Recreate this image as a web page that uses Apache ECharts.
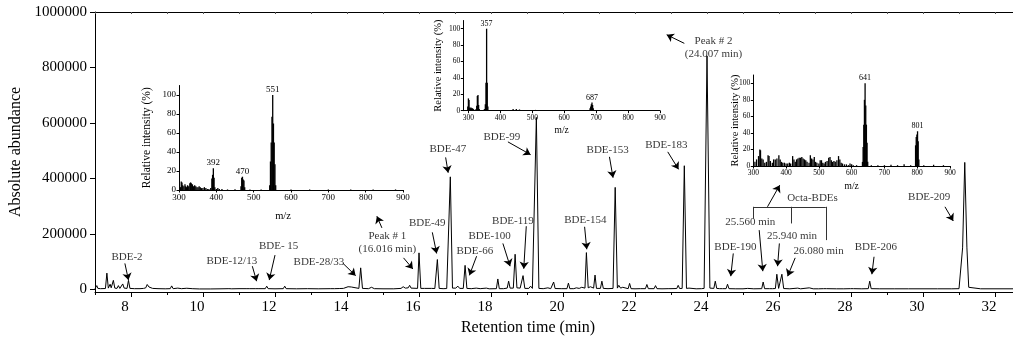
<!DOCTYPE html>
<html><head><meta charset="utf-8">
<script src="https://cdn.jsdelivr.net/npm/echarts@6/dist/echarts.min.js"></script>
<style>html,body{margin:0;padding:0;background:#fff}#c{width:1013px;height:341px}</style>
</head><body><div id="c"></div>
<script>
// ---------------- DATA ----------------
const rtTicks = [8, 10, 12, 14, 16, 18, 20, 22, 24, 26, 28, 30, 32];
const rtMinorTicks = [7, 9, 11, 13, 15, 17, 19, 21, 23, 25, 27, 29, 31];
const rtFrameTicks = [7,8,9,10,11,12,13,14,15,16,17,18,19,20,21,22,23,24,25,26,27,28,29,30,31,32];
const abundanceTicks = [0, 200000, 400000, 600000, 800000, 1000000];
const abundanceMinorTicks = [100000, 300000, 500000, 700000, 900000];
const mzTicks = [300, 400, 500, 600, 700, 800, 900];
const intensityTicks = [0, 20, 40, 60, 80, 100];

// chromatogram: [retention time (min), absolute abundance]
const chromatogram = [
 [7.00,3000],[7.03,4000],[7.05,14000],[7.08,4000],[7.15,3000],
 [7.29,3500],[7.33,59000],[7.37,5000],[7.40,8000],[7.42,19000],[7.45,6000],
 [7.48,8000],[7.51,33000],[7.55,5000],[7.61,4000],[7.65,14000],[7.69,4000],
 [7.73,5000],[7.77,20000],[7.81,5000],[7.89,4000],[7.93,33000],[7.97,4000],
 [8.10,3000],[8.25,3000],[8.35,4000],[8.41,6000],[8.45,18000],[8.50,9000],[8.55,14000],[8.60,4000],
 [8.75,3000],[8.95,2500],[9.09,3000],[9.13,13000],[9.17,3000],
 [9.30,5000],[9.40,3000],[9.55,4500],[9.70,3000],[9.90,2000],[10.20,2000],[10.50,2500],
 [10.72,3000],[10.75,5000],[10.80,2500],[11.00,3000],[11.22,3000],[11.25,6000],[11.30,3000],
 [11.45,3000],[11.49,8000],[11.53,3000],[11.73,3000],[11.77,12000],[11.81,3000],
 [12.00,2500],[12.23,3000],[12.27,12000],[12.31,3000],
 [12.60,2500],[12.90,3000],[13.20,2500],[13.55,3000],[13.60,6000],[13.65,3000],
 [13.80,3500],[13.85,8000],[13.90,4000],[14.03,10000],[14.07,4000],[14.12,9000],[14.17,3500],
 [14.33,4000],[14.38,78000],[14.43,4000],[14.60,3000],[14.68,8000],[14.76,3000],
 [15.00,2500],[15.30,2500],[15.50,4000],[15.56,10000],[15.62,5000],[15.70,6000],[15.74,15000],[15.78,5000],
 [15.96,4000],[16.00,132000],[16.05,4000],
 [16.15,4000],[16.20,10000],[16.25,4000],[16.30,10000],[16.35,4000],[16.40,6000],[16.44,3500],
 [16.47,4000],[16.51,108000],[16.56,4000],[16.67,3000],[16.71,5000],[16.77,3500],
 [16.81,4000],[16.87,406000],[16.93,5000],[16.97,10000],[17.02,5000],[17.08,12000],[17.13,4000],
 [17.23,4000],[17.28,87000],[17.33,4000],[17.45,3000],[17.59,5000],[17.70,3000],[17.87,5000],[17.95,2500],
 [18.15,3000],[18.19,38000],[18.23,3000],[18.35,3000],[18.45,5000],[18.49,30000],[18.53,5000],
 [18.62,5000],[18.67,127000],[18.72,6000],[18.77,12000],[18.81,5000],
 [18.85,5000],[18.89,50000],[18.94,4000],[19.05,4000],[19.10,12000],[19.15,4000],
 [19.19,4000],[19.26,620000],[19.33,4000],
 [19.45,3000],[19.58,6000],[19.66,3000],[19.70,4000],[19.74,27000],[19.78,3500],
 [19.95,3000],[20.11,3000],[20.15,23000],[20.19,3000],
 [20.30,3000],[20.37,6000],[20.45,4000],[20.52,8000],[20.57,4000],
 [20.61,5000],[20.65,133000],[20.70,6000],[20.76,10000],[20.81,5000],
 [20.85,5000],[20.89,52000],[20.93,4000],[21.04,4000],[21.08,30000],[21.12,4000],
 [21.25,3000],[21.39,4000],[21.45,368000],[21.51,5000],[21.55,15000],[21.60,5000],[21.66,8000],[21.71,3500],
 [21.81,3000],[21.85,22000],[21.89,3000],[22.00,2500],[22.15,3000],[22.29,3000],[22.33,18000],[22.37,3000],
 [22.53,3000],[22.57,14000],[22.61,3000],[22.75,2500],[22.92,3000],[22.96,8000],[23.00,3000],
 [23.16,3500],[23.20,15000],[23.24,3500],
 [23.31,4000],[23.37,446000],[23.43,4000],[23.50,5000],[23.55,3000],
 [23.70,2500],[23.85,3000],[23.92,4000],[24.00,842000],[24.08,5000],
 [24.19,4000],[24.23,30000],[24.27,4000],[24.35,3000],[24.39,6000],[24.43,3000],
 [24.53,3000],[24.57,19000],[24.61,3000],[24.80,2500],[25.00,2500],[25.13,4000],[25.30,2500],
 [25.52,3000],[25.56,27000],[25.60,3000],[25.74,3000],[25.78,6000],[25.82,3000],
 [25.90,3500],[25.94,55000],[25.99,4000],[26.03,4000],[26.08,55000],[26.13,3500],
 [26.30,2500],[26.52,5000],[26.60,2500],[26.84,6000],[26.95,2500],[27.10,2500],
 [27.24,3000],[27.28,10000],[27.32,3000],[27.60,2500],[27.80,2500],[27.99,3000],[28.03,10000],[28.07,3000],
 [28.30,2500],[28.48,3000],[28.52,30000],[28.56,3000],
 [28.80,2500],[29.20,2500],[29.60,2500],[30.00,2500],[30.40,2500],[30.80,2500],[31.00,3000],
 [31.05,8000],[31.10,150000],[31.16,458000],[31.22,150000],[31.27,8000],[31.32,3000],
 [31.60,2500],[32.00,2500],[32.50,2500]
];

// mass spectra: [m/z, relative intensity %]
const ms1 = [
 [304,3],[306,9],[308,8],[310,5],[313,4],[316,6],[318,4],[320,3],[323,5],[326,4],[329,7],[331,8],[333,7],
 [336,6],[339,4],[342,5],[345,4],[348,3],[351,3],[354,4],[357,3],[360,2],[364,2],[368,3],[372,2],[376,1],
 [380,1],[385,2],[388,12],[390,16],[392,23],[394,13],[396,3],[400,1],[404,2],[408,1],[415,1],[430,0.6],
 [450,0.7],[466,4],[468,13],[470,14],[472,11],[474,10],[476,3],[490,0.6],[520,0.6],
 [543,5],[545,30],[547,50],[549,77],[551,100],[553,70],[555,50],[557,27],[559,5],
 [600,0.6],[650,0.6],[700,0.6],[760,0.6],[820,0.6],[880,0.6]
];
const ms1Labels = [392, 470, 551];
const ms2 = [
 [298,5],[300,15],[302,13],[304,4],[306,3],[308,4],[310,3],[313,3],[316,2],[320,1],[324,2],[326,6],
 [328,18],[330,19],[332,7],[334,2],[340,1],[350,2],[353,8],[355,34],[357,100],[359,34],[361,5],[370,1],
 [380,1],[400,1],[420,1],[440,2],[450,2],[460,1.5],[470,1],[490,1],[510,1],[530,1],[560,0.6],[600,0.6],
 [640,0.6],[681,3],[683,5],[685,8],[687,10],[689,7],[691,3],[720,0.6],[800,0.6],[860,0.6]
];
const ms2Labels = [357, 687];
const ms3 = [
 [305,5],[310,8],[316,12],[320,20],[322,19],[326,9],[330,8],[335,4],[340,5],[345,13],[348,12],[352,6],
 [358,4],[362,8],[367,8],[372,9],[378,13],[382,8],[386,5],[390,4],[395,4],[400,3],[405,3],[410,4],[414,3],
 [420,12],[424,8],[428,5],[432,8],[436,9],[440,10],[444,10],[448,11],[452,9],[456,8],[460,7],[464,5],
 [470,4],[474,13],[478,9],[482,8],[486,11],[490,5],[494,4],[500,3],[504,7],[508,7],[512,4],[516,3],
 [520,5],[525,6],[530,10],[534,11],[538,7],[542,5],[546,6],[550,5],[555,7],[560,12],[564,8],[568,4],
 [572,3],[578,2],[584,2],[590,1],[595,3],[600,2],[605,1],[615,1],
 [633,5],[635,23],[637,50],[639,80],[641,100],[643,73],[645,50],[647,28],[649,5],
 [660,1],[680,1],[700,1],[720,1.5],[740,1],[760,2],[780,1],
 [795,25],[797,35],[799,38],[801,42],[803,30],[805,8],[820,1],[850,1.5],[880,1]
];
const ms3Labels = [641, 801];

// ---------------- ANNOTATIONS (layout, in data units) ----------------
const annotationTexts = [
 [7.89,116000,'BDE-2'],[10.8,103000,'BDE-12/13'],[12.1,157000,'BDE- 15'],[13.22,99500,'BDE-28/33'],
 [15.12,170000,'Peak # 1\n(16.016 min)'],[16.23,240000,'BDE-49'],[16.8,506000,'BDE-47'],
 [17.55,139000,'BDE-66'],[17.96,193000,'BDE-100'],[18.61,247000,'BDE-119'],[18.3,548000,'BDE-99'],
 [20.62,250000,'BDE-154'],[21.24,502000,'BDE-153'],[22.87,520000,'BDE-183'],
 [24.18,872000,'Peak # 2\n(24.007 min)'],[26.93,328000,'Octa-BDEs'],[25.2,244000,'25.560 min'],
 [26.36,193000,'25.940 min'],[27.1,139000,'26.080 min'],[24.79,154000,'BDE-190'],
 [28.69,154000,'BDE-206'],[30.17,334000,'BDE-209']
];
const annotationArrows = [
 [[7.83,94000],[7.93,34000]],[[11.37,84000],[11.49,30000]],[[12.0,124000],[11.84,34000]],
 [[13.89,94000],[14.24,50000]],[[14.97,222000],[14.83,264000]],[[15.57,114000],[15.83,74000]],
 [[16.37,206000],[16.49,130000]],[[16.74,476000],[16.81,421000]],[[17.6,120000],[17.4,51000]],
 [[18.33,166000],[18.53,84000]],[[18.98,228000],[18.91,75000]],[[18.47,532000],[19.1,486000]],
 [[20.6,226000],[20.66,145000]],[[21.29,478000],[21.39,403000]],[[22.91,496000],[23.21,433000]],
 [[23.37,887000],[22.88,918000]],[[25.68,298000],[26.02,376000]],[[25.45,214000],[25.55,66000]],
 [[26.01,166000],[25.96,84000]],[[26.45,114000],[26.24,48000]],[[24.73,130000],[24.66,48000]],
 [[28.64,118000],[28.58,55000]],[[30.61,298000],[30.84,247000]]
];
const bracketLines = [
 [[25.29,298000],[27.3,298000]],[[25.29,298000],[25.29,256000]],
 [[26.33,298000],[26.33,238000]],[[27.3,298000],[27.3,178000]]
];

// ---------------- CHART ----------------
const FONT = 'Liberation Serif';
const BLACK = '#000';

function insetAxes(gi, xmin, tickFont, nameFont, yGap, xGap, xNamePad) {
  return {
    x: {
      type: 'value', gridIndex: gi, min: xmin, max: 900,
      name: 'm/z', nameLocation: 'middle', nameGap: xGap, nameMoveOverlap: false,
      nameTextStyle: { fontFamily: FONT, fontSize: nameFont - 1, color: BLACK, padding: xNamePad },
      axisLine: { show: true, onZero: false, lineStyle: { color: BLACK, width: 1 } },
      axisTick: { show: true, customValues: mzTicks, length: 2.5, lineStyle: { color: BLACK } },
      axisLabel: { customValues: mzTicks, margin: 3, fontFamily: FONT, fontSize: tickFont, color: BLACK },
      splitLine: { show: false }
    },
    y: {
      type: 'value', gridIndex: gi, min: 0, max: 110,
      name: 'Relative intensity (%)', nameLocation: 'middle', nameGap: yGap, nameMoveOverlap: false,
      nameTextStyle: { fontFamily: FONT, fontSize: nameFont, color: BLACK },
      axisLine: { show: true, onZero: false, lineStyle: { color: BLACK, width: 1 } },
      axisTick: { show: true, customValues: intensityTicks, length: 2.5, lineStyle: { color: BLACK } },
      axisLabel: { customValues: intensityTicks, margin: 3, fontFamily: FONT, fontSize: tickFont, color: BLACK },
      splitLine: { show: false }
    }
  };
}
function spectrumSeries(xIdx, yIdx, data, labels, fontSize) {
  return {
    type: 'bar', xAxisIndex: xIdx, yAxisIndex: yIdx, barWidth: 1.3, silent: true,
    itemStyle: { color: BLACK },
    data: data.map(d => labels.includes(d[0])
      ? { value: d, label: { show: true, position: 'top', distance: 1, formatter: String(d[0]),
          fontFamily: FONT, fontSize: fontSize, color: BLACK } }
      : { value: d })
  };
}

const i1 = insetAxes(1, 300, 9, 11.5, 26, 21, [0, 16, 0, 0]);
const i2 = insetAxes(2, 284, 7.5, 10.5, 20, 15, 0);
const i3 = insetAxes(3, 300, 7.5, 10.5, 13, 15, 0);

const option = {
  animation: false,
  backgroundColor: '#fff',
  grid: [
    { left: 95, top: 12, right: -1, bottom: 49 },
    { left: 179, top: 85.5, width: 224, height: 104.5 },
    { left: 463.3, top: 20.5, width: 196.7, height: 90.2 },
    { left: 753.3, top: 75, width: 196.7, height: 91 }
  ],
  xAxis: [
    { type: 'value', gridIndex: 0, min: 7, max: 32.5, position: 'bottom',
      name: 'Retention time (min)', nameLocation: 'middle', nameGap: 26,
      nameTextStyle: { fontFamily: FONT, fontSize: 16, color: BLACK, padding: [0, 52, 0, 0] },
      axisLine: { show: true, onZero: false, lineStyle: { color: BLACK, width: 1 } },
      axisTick: { show: true, customValues: rtTicks, length: 5, lineStyle: { color: BLACK } },
      axisLabel: { customValues: rtTicks, margin: 8, fontFamily: FONT, fontSize: 15, color: BLACK,
        formatter: v => String(v) + '{s|}', rich: { s: { width: 12 } } },
      splitLine: { show: false } },
    { type: 'value', gridIndex: 0, min: 7, max: 32.5, position: 'bottom',
      axisLine: { show: false, onZero: false }, axisLabel: { show: false },
      axisTick: { show: true, customValues: rtMinorTicks, length: 3, lineStyle: { color: BLACK } },
      splitLine: { show: false } },
    { type: 'value', gridIndex: 0, min: 7, max: 32.5, position: 'top',
      axisLine: { show: true, onZero: false, lineStyle: { color: BLACK, width: 1 } }, axisLabel: { show: false },
      axisTick: { show: true, inside: true, customValues: rtFrameTicks, length: 2, lineStyle: { color: '#555' } },
      splitLine: { show: false } },
    i1.x, i2.x, i3.x
  ],
  yAxis: [
    { type: 'value', gridIndex: 0, min: -9000, max: 1000000,
      name: 'Absolute abundance', nameLocation: 'middle', nameGap: 71, nameMoveOverlap: false,
      nameTextStyle: { fontFamily: FONT, fontSize: 16, color: BLACK },
      axisLine: { show: true, onZero: false, lineStyle: { color: BLACK, width: 1 } },
      axisTick: { show: true, customValues: abundanceTicks, length: 5, lineStyle: { color: BLACK } },
      axisLabel: { customValues: abundanceTicks, margin: 8, fontFamily: FONT, fontSize: 15, color: BLACK,
        formatter: v => String(v) },
      splitLine: { show: false } },
    { type: 'value', gridIndex: 0, min: -9000, max: 1000000,
      axisLine: { show: false, onZero: false }, axisLabel: { show: false },
      axisTick: { show: true, customValues: abundanceMinorTicks, length: 3, lineStyle: { color: BLACK } },
      splitLine: { show: false } },
    i1.y, i2.y, i3.y
  ],
  series: [
    { type: 'line', xAxisIndex: 0, yAxisIndex: 0, data: chromatogram, showSymbol: false, symbol: 'none',
      clip: true, silent: true, lineStyle: { color: BLACK, width: 1 },
      markLine: { silent: true, animation: false, symbol: ['none', 'arrow'], symbolSize: 7,
        label: { show: false }, lineStyle: { color: BLACK, width: 1, type: 'solid' },
        emphasis: { disabled: true },
        data: annotationArrows.map(a => [{ coord: a[0] }, { coord: a[1] }]) } },
    { type: 'scatter', xAxisIndex: 0, yAxisIndex: 0, symbolSize: 1, silent: true,
      itemStyle: { color: 'rgba(0,0,0,0)' }, z: 5,
      data: annotationTexts,
      label: { show: true, position: 'inside', formatter: p => p.data[2], fontFamily: FONT, fontSize: 11,
        color: BLACK, lineHeight: 13, align: 'center' },
      markLine: { silent: true, animation: false, symbol: ['none', 'none'],
        label: { show: false }, lineStyle: { color: '#333', width: 1, type: 'solid' },
        emphasis: { disabled: true },
        data: bracketLines.map(a => [{ coord: a[0] }, { coord: a[1] }]) } },
    spectrumSeries(3, 2, ms1, ms1Labels, 9),
    spectrumSeries(4, 3, ms2, ms2Labels, 8),
    spectrumSeries(5, 4, ms3, ms3Labels, 8)
  ]
};
echarts.init(document.getElementById('c'), null, { renderer: 'canvas' }).setOption(option);
</script></body></html>
